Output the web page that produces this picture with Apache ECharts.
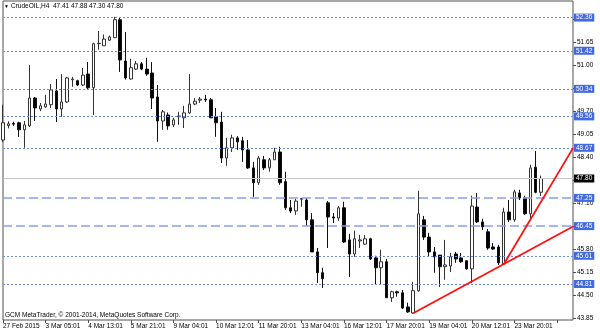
<!DOCTYPE html>
<html>
<head>
<meta charset="utf-8">
<script src="https://cdn.jsdelivr.net/npm/echarts@6/dist/echarts.min.js"></script>
<style>html,body{margin:0;padding:0;background:#fff}#c{width:600px;height:333px}</style>
</head>
<body>
<div id="c"></div>
<script>
// ---- data ----
const symbolName = "CrudeOIL,H4";
const copyrightText = "GCM MetaTrader, \u00a9 2001-2014, MetaQuotes Software Corp.";
const tickLabels = ["27 Feb 2015","3 Mar 05:01","4 Mar 13:01","5 Mar 21:01","9 Mar 04:01","10 Mar 12:01","11 Mar 20:01","13 Mar 04:01","16 Mar 12:01","17 Mar 20:01","19 Mar 04:01","20 Mar 12:01","23 Mar 20:01"];
const barsPerLabel = 8;
const slotCount = 108;
const priceTicks = [43.85,44.50,45.15,45.80,46.45,47.10,47.75,48.40,49.05,49.70,50.35,51.00,51.65,52.30];
const opens  = [48.89,49.30,49.36,49.38,49.18,49.29,50.08,49.77,49.83,49.89,50.28,49.77,49.97,50.60,50.57,50.45,50.76,50.37,51.62,51.56,51.72,51.79,52.30,51.13,50.62,50.90,51.05,50.90,50.79,50.11,49.43,49.60,49.32,49.55,49.52,49.66,49.91,
                50.02,50.05,50.03,49.55,49.40,48.38,48.67,48.95,48.87,48.61,48.10,47.68,48.33,48.10,48.33,48.55,47.71,46.97,46.88,47.21,47.19,46.63,45.72,45.13,47.11,46.71,46.68,46.97,46.06,45.66,46.03,45.94,46.09,45.55,45.27,45.44,44.42,
                44.59,44.56,44.16,43.99,44.62,46.63,46.14,45.72,45.63,45.30,45.32,45.66,45.55,45.47,45.24,46.99,46.57,46.29,45.86,45.86,45.38,46.85,46.63,47.39,47.25,46.80,48.12,47.41];
const closes = [49.38,49.35,49.34,49.18,49.32,50.08,49.80,49.86,49.91,50.31,49.77,49.97,50.65,50.62,50.45,50.73,50.37,51.62,51.63,51.75,51.81,52.30,51.16,50.65,50.94,51.05,50.90,50.76,50.08,49.43,49.69,49.29,49.46,49.57,49.66,49.91,49.99,
                50.05,50.03,49.52,49.38,48.38,48.67,48.95,48.84,48.61,48.10,47.68,48.38,48.10,48.33,48.55,47.68,46.97,46.88,47.16,47.23,46.63,45.72,45.13,44.96,46.71,46.68,46.97,46.00,45.66,46.09,46.06,46.09,45.52,45.27,45.44,44.42,44.59,
                44.56,44.13,44.02,44.62,46.80,46.14,45.72,45.58,45.30,45.35,45.58,45.52,45.44,45.24,47.02,46.57,46.43,45.83,45.80,45.41,46.85,46.63,47.42,47.25,46.80,48.10,47.41,47.80];
const lows   = [48.83,49.22,49.29,48.98,48.67,49.26,49.43,49.71,49.80,49.80,49.40,49.55,49.94,50.40,50.42,50.42,50.31,49.60,51.45,51.56,51.70,51.78,50.82,50.60,50.60,50.87,50.87,50.71,49.77,48.84,49.18,49.18,49.26,49.32,49.23,49.63,49.88,
                49.94,49.97,49.52,48.98,48.24,48.16,48.55,48.61,48.27,48.07,47.28,47.62,48.04,47.99,48.33,47.62,46.91,46.82,46.77,47.00,46.46,45.72,44.84,44.70,45.83,46.54,46.60,45.97,45.01,45.58,45.83,45.92,45.49,44.81,44.81,44.42,44.30,
                44.45,44.10,43.99,43.97,44.59,46.06,45.58,45.13,44.73,44.93,45.15,45.41,45.41,45.21,44.84,46.54,46.34,45.78,45.78,45.35,45.35,46.57,46.57,47.19,46.77,46.68,47.38,47.30];
const highs  = [49.89,49.42,49.41,49.41,49.43,51.02,50.11,49.94,50.17,50.48,50.62,50.76,50.68,50.68,50.60,50.93,51.10,51.65,51.98,51.88,51.85,52.38,52.35,51.95,51.19,51.13,51.10,51.22,51.10,50.45,49.74,49.67,49.52,49.69,49.86,50.76,50.08,
                50.11,50.17,50.08,49.80,49.69,48.95,49.04,49.00,48.98,48.89,48.27,48.44,48.44,48.38,48.67,48.70,47.99,47.19,47.22,47.25,47.25,46.82,45.83,45.27,47.16,46.82,47.02,47.14,46.23,46.32,46.20,46.20,46.12,45.61,45.78,45.52,44.62,
                44.62,44.64,44.28,44.87,47.45,46.74,46.26,45.86,45.63,46.06,45.69,45.72,45.69,45.47,47.31,47.39,46.66,46.37,45.97,45.92,46.97,47.19,47.48,47.48,47.31,48.19,48.58,47.88];
const dottedLevels = [52.36,51.42,50.34,49.56,48.67,45.61,44.81];
const dashedLevels = [47.25,46.45];
const currentPrice = 47.80;
const trendA = [[77,43.98],[107,46.44]];
const trendB = [[94,45.37],[107,48.66]];
const yMin = 43.79, yMax = 52.83;

// ---- build ----
const FONT = 'Liberation Sans';
const categories = Array.from({length: slotCount}, (_, i) => String(i));
const candles = opens.map((o, i) => [o, closes[i], lows[i], highs[i]]);
const last = candles.length - 1;
const header = symbolName + '  ' + [opens[last], highs[last], lows[last], closes[last]].map(v => v.toFixed(2)).join(' ');

function lvl(v, lineStyle, bg) {
  return {
    yAxis: v,
    lineStyle: lineStyle,
    label: {
      show: true, position: 'end', distance: 1,
      formatter: () => v.toFixed(2),
      backgroundColor: bg, color: '#fff', padding: [1, 2, 0, 2],
      fontSize: 6.5, fontFamily: FONT
    }
  };
}
const markData = []
  .concat([lvl(currentPrice, {color: '#c8c8c8', width: 1, type: 'solid'}, '#000')])
  .concat(dottedLevels.map(v => lvl(v, {color: '#6d8be2', width: 1, type: [2, 2]}, '#4169e1')))
  .concat(dashedLevels.map(v => lvl(v, {color: '#86a0ea', width: 1.5, type: [9, 4]}, '#4169e1')));

const chart = echarts.init(document.getElementById('c'), null, {renderer: 'canvas'});
chart.setOption({
  animation: false,
  backgroundColor: '#fff',
  grid: {left: 2, right: 27, top: 1, bottom: 13, show: true, borderColor: '#505050', borderWidth: 1, backgroundColor: '#fff'},
  xAxis: {
    type: 'category', data: categories, boundaryGap: false,
    axisLine: {show: false},
    axisTick: {show: true, interval: barsPerLabel - 1, length: 3, lineStyle: {color: '#505050'}},
    axisLabel: {
      interval: barsPerLabel - 1, align: 'left', margin: 3,
      fontSize: 6.5, fontFamily: FONT, color: '#000',
      formatter: (v, i) => (i % barsPerLabel === 0 && tickLabels[i / barsPerLabel]) ? tickLabels[i / barsPerLabel] : ''
    },
    splitLine: {show: false}
  },
  yAxis: {
    type: 'value', position: 'right', min: yMin, max: yMax, scale: true,
    axisLine: {show: false}, splitLine: {show: false},
    axisTick: {show: true, customValues: priceTicks, length: 3, lineStyle: {color: '#505050'}},
    axisLabel: {customValues: priceTicks, formatter: v => Number(v).toFixed(2), margin: 4, fontSize: 6.5, fontFamily: FONT, color: '#000'}
  },
  series: [
    {
      type: 'candlestick', data: candles, barWidth: 3,
      itemStyle: {color: '#fff', color0: '#000', borderColor: '#333', borderColor0: '#111', borderWidth: 1},
      markLine: {silent: true, symbol: ['none', 'none'], animation: false, data: markData}
    },
    {type: 'line', data: trendA, showSymbol: false, symbol: 'none', lineStyle: {color: '#ff1010', width: 1.8}, z: 5, silent: true},
    {type: 'line', data: trendB, showSymbol: false, symbol: 'none', lineStyle: {color: '#ff1010', width: 1.8}, z: 5, silent: true}
  ],
  graphic: [
    {type: 'text', left: 4, top: 4, style: {text: '\u25bc', fontSize: 5, fill: '#000'}},
    {type: 'text', left: 11, top: 3, style: {text: header, fontSize: 6.5, fontFamily: FONT, fill: '#000'}},
    {type: 'text', left: 5, top: 312, style: {text: copyrightText, fontSize: 6.5, fontFamily: FONT, fill: '#000'}}
  ]
});
</script>
</body>
</html>
